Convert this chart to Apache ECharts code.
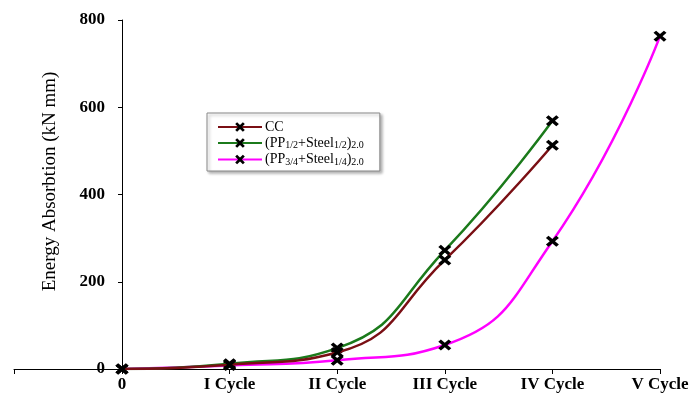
<!DOCTYPE html>
<html><head><meta charset="utf-8">
<script src="https://cdn.jsdelivr.net/npm/echarts@6/dist/echarts.min.js"></script>
<style>html,body{margin:0;padding:0;background:#fff}#c{width:694px;height:396px}</style>
</head><body><div id="c"></div>
<script>
const xLabels = ['0', 'I Cycle', 'II Cycle', 'III Cycle', 'IV Cycle', 'V Cycle'];
const yTicks = [0, 200, 400, 600, 800];
const seriesNames = ['CC', '(PP1/2+Steel1/2)2.0', '(PP3/4+Steel1/4)2.0'];
const ccValues = [0, 10, 38, 250, 513];
const pp12Values = [0, 12, 48, 272, 569];
const pp34Values = [0, 8, 20, 55, 293, 763];
const colors = ['#7a0f14', '#1b7a1b', '#ff00ff'];

const xSym = 'path://M2,0 L5,3 L8,0 L10,2 L7,5 L10,8 L8,10 L5,7 L2,10 L0,8 L3,5 L0,2 Z';
const serif = '"Liberation Serif","Times New Roman",serif';

function pairs(vals){ return vals.map((v,i)=>[i, v]); }
const allVals = [ccValues, pp12Values, pp34Values];

const chart = echarts.init(document.getElementById('c'));
chart.setOption({
  animation: false,
  grid: [
    { left: 122, right: 34, top: 20, bottom: 27, containLabel: false },
    { left: 14, width: 108, top: 20, bottom: 27, containLabel: false }
  ],
  legend: {
    left: 207, top: 113, width: 180, orient: 'vertical',
    padding: [7, 16, 4, 10], itemGap: 2, itemWidth: 44, itemHeight: 12,
    borderColor: '#888', borderWidth: 1, backgroundColor: '#fff',
    shadowColor: 'rgba(0,0,0,0.3)', shadowBlur: 3, shadowOffsetX: 2, shadowOffsetY: 2,
    data: seriesNames,
    formatter: function(n){
      if (n === 'CC') return '{n|CC}';
      if (n === seriesNames[1]) return '{n|(PP}{s|1/2}{n|+Steel}{s|1/2}{n|)}{s|2.0}';
      return '{n|(PP}{s|3/4}{n|+Steel}{s|1/4}{n|)}{s|2.0}';
    },
    textStyle: {
      fontFamily: serif, color: '#000', padding: [0,0,0,-2],
      rich: {
        n: { fontFamily: serif, fontSize: 14, color: '#000', lineHeight: 15 },
        s: { fontFamily: serif, fontSize: 10, color: '#000', verticalAlign: 'bottom', lineHeight: 12 }
      }
    }
  },
  xAxis: [{
    gridIndex: 0, type: 'value', min: 0, max: 5, interval: 1,
    splitLine: { show: false },
    axisLine: { show: true, onZero: false, lineStyle: { color: '#000', width: 1 } },
    axisTick: { show: true, length: 5, lineStyle: { color: '#000' } },
    axisLabel: {
      margin: 7, fontFamily: serif, fontWeight: 'bold', fontSize: 17, color: '#000',
      formatter: v => (v >= 0 && v < xLabels.length) ? xLabels[v] : ''
    }
  }, {
    gridIndex: 1, type: 'value', min: -1, max: 0, interval: 1,
    splitLine: { show: false },
    axisLine: { show: true, onZero: false, lineStyle: { color: '#000', width: 1 } },
    axisTick: { show: true, length: 5, lineStyle: { color: '#000' } },
    axisLabel: { show: false }
  }],
  yAxis: [{
    gridIndex: 0, type: 'value', min: 0, max: 800, interval: 200,
    name: 'Energy Absorbtion (kN mm)', nameLocation: 'middle', nameRotate: 90, nameGap: 62,
    nameTextStyle: { fontFamily: serif, fontSize: 19, color: '#000', padding: [0, 0, 0, 26] },
    splitLine: { show: false },
    axisLine: { show: true, onZero: false, lineStyle: { color: '#000', width: 1 } },
    axisTick: { show: true, length: 4, lineStyle: { color: '#000' } },
    axisLabel: {
      margin: 17, fontFamily: serif, fontWeight: 'bold', fontSize: 17, color: '#000',
      formatter: v => yTicks.includes(v) ? String(v) : ''
    }
  }, {
    gridIndex: 1, type: 'value', min: 0, max: 800, show: false
  }],
  series: seriesNames.map((n, i) => ({
    name: n, type: 'line', smooth: 0.5, data: pairs(allVals[i]),
    xAxisIndex: 0, yAxisIndex: 0,
    symbol: xSym, symbolSize: [13, 11], showSymbol: true,
    lineStyle: { color: colors[i], width: 2.5 },
    itemStyle: { color: '#000' },
    z: 3 - i
  }))
});
</script></body></html>
